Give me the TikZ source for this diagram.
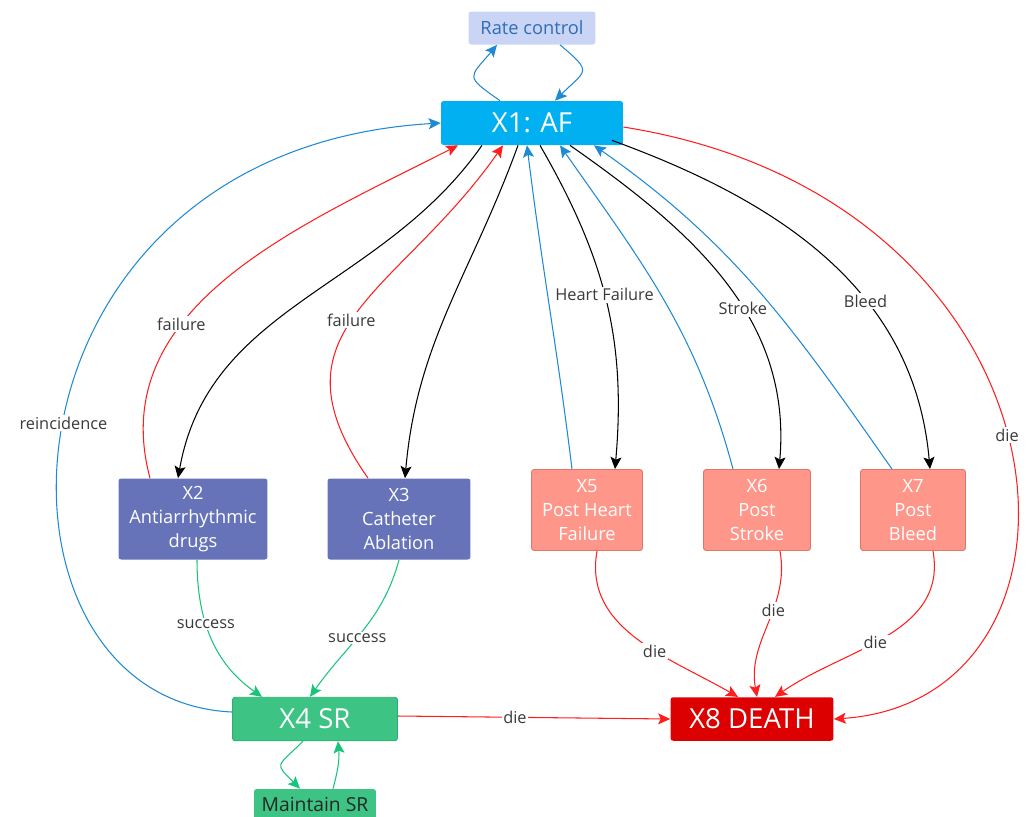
\documentclass[tikz,border=0pt]{standalone}
\usepackage{fontspec}
\setmainfont{Open Sans}
\usetikzlibrary{arrows.meta}
\definecolor{afcyan}{HTML}{00B0F0}
\definecolor{ratefill}{HTML}{CAD5F6}
\definecolor{ratetext}{HTML}{2F6DB5}
\definecolor{treatfill}{HTML}{6673B9}
\definecolor{postfill}{HTML}{FF968A}
\definecolor{postdraw}{HTML}{E0766A}
\definecolor{srgreen}{HTML}{3DC485}
\definecolor{srdraw}{HTML}{2EAE6E}
\definecolor{deathred}{HTML}{DD0000}
\definecolor{linkblue}{HTML}{1E8AD3}
\definecolor{linkred}{HTML}{FF1E1E}
\definecolor{linkgreen}{HTML}{18C47A}
\definecolor{labelgrey}{HTML}{3A3A3A}
\begin{document}
\begin{tikzpicture}[x=0.02cm, y=0.02cm,
    box/.style={rounded corners=1.5pt, align=center, inner sep=0pt, text=white,
      font=\fontsize{10.4}{13.6}\selectfont},
    bigbox/.style={box, minimum height=0.87cm, font=\fontsize{15.7}{18}\selectfont},
    treat/.style={box, fill=treatfill, minimum height=1.62cm},
    post/.style={box, fill=postfill, draw=postdraw, line width=0.5pt, minimum height=1.62cm},
    link/.style={line width=0.6pt, -{Stealth[length=2.4mm,width=2.2mm,inset=0.5mm]}},
    lbl/.style={fill=white, inner sep=1pt, text=labelgrey, font=\fontsize{9.3}{10}\selectfont}]
    \useasboundingbox (0,0) rectangle (1028,-816);

    % States
    \node[box, fill=ratefill, text=ratetext, minimum width=2.54cm, minimum height=0.66cm]
        (rate) at (532,-28) {Rate control};
    \node[bigbox, fill=afcyan, minimum width=3.64cm, minimum height=0.88cm] (af) at (532,-123) {X1: AF};
    \node[treat, minimum width=2.98cm] (aad) at (193,-519) {X2\\Antiarrhythmic\\drugs};
    \node[treat, minimum width=2.86cm] (abl) at (399,-519) {X3\\Catheter\\Ablation};
    \node[post, minimum width=2.22cm] (phf) at (587,-510) {X5\\Post Heart\\Failure};
    \node[post, minimum width=2.14cm] (pst) at (757,-510) {X6\\Post\\Stroke};
    \node[post, minimum width=2.10cm] (pbl) at (913,-510) {X7\\Post\\Bleed};
    \node[bigbox, fill=srgreen, draw=srdraw, line width=0.5pt, minimum width=3.3cm] (sr) at (315,-719) {X4 SR};
    \node[bigbox, fill=deathred, minimum width=3.26cm] (death) at (752,-719) {X8 DEATH};
    \node[box, fill=srgreen, text=black!85, minimum width=2.44cm, minimum height=0.6cm,
        font=\fontsize{11}{13}\selectfont] (keep) at (315,-804) {Maintain SR};

    % Rate control loop
    \draw[link, linkblue] ([xshift=-0.64cm]af.north) to[out=145,in=-130, looseness=2] ([xshift=-0.7cm]rate.south);
    \draw[link, linkblue] ([xshift=0.56cm]rate.south) to[out=-40,in=45, looseness=2] ([xshift=0.46cm]af.north);

    % Treatments
    \draw[link, black] ([xshift=-1.0cm]af.south) to[out=235,in=80] ([xshift=-0.3cm]aad.north);
    \draw[link, linkred] ([xshift=-0.86cm]aad.north) to[out=105,in=207]
        node[lbl, pos=0.36] {failure} ([xshift=-1.48cm]af.south);
    \draw[link, black] ([xshift=-0.28cm]af.south) to[out=250,in=85] ([xshift=0.12cm]abl.north);
    \draw[link, linkred] ([xshift=-0.62cm]abl.north) to[out=125,in=235, looseness=1.3]
        node[lbl, pos=0.47] {failure} ([xshift=-0.58cm]af.south);

    % Events
    \draw[link, linkblue] ([xshift=-0.3cm]phf.north) to[out=97,in=-83] ([xshift=-0.1cm]af.south);
    \draw[link, black] ([xshift=0.16cm]af.south) to[out=-60,in=85]
        node[lbl, pos=0.48] {Heart Failure} ([xshift=0.56cm]phf.north);
    \draw[link, linkblue] ([xshift=-0.48cm]pst.north) to[out=105,in=-55] ([xshift=0.56cm]af.south);
    \draw[link, black] ([xshift=0.76cm]af.south) to[out=-35,in=85]
        node[lbl, pos=0.58] {Stroke} ([xshift=0.44cm]pst.north);
    \draw[link, linkblue] ([xshift=-0.42cm]pbl.north) to[out=125,in=-35] ([xshift=1.24cm]af.south);
    \draw[link, black] ([xshift=1.6cm,yshift=0.1cm]af.south) to[out=-20,in=95]
        node[lbl, pos=0.62] {Bleed} ([xshift=0.34cm]pbl.north);

    % Reincidence and death from AF
    \draw[link, linkblue] ([yshift=0.14cm]sr.west) .. controls (-35,-700) and (-20,-150) ..
        node[lbl, pos=0.5] {reincidence} (af.west);
    \draw[link, linkred] ([yshift=-0.08cm]af.east) .. controls (1085,-200) and (1120,-700) ..
        node[lbl, pos=0.49] {die} (death.east);

    % Success
    \draw[link, linkgreen] ([xshift=0.08cm]aad.south) to[out=-90,in=145]
        node[lbl, pos=0.4] {success} ([xshift=-1.06cm]sr.north);
    \draw[link, linkgreen] (abl.south) to[out=-105,in=55]
        node[lbl, pos=0.55] {success} ([xshift=-0.1cm]sr.north);

    % Death
    \draw[link, linkred] ([xshift=0.2cm]phf.south) to[out=-100,in=150]
        node[lbl, pos=0.6] {die} ([xshift=-0.28cm]death.north);
    \draw[link, linkred] ([xshift=0.46cm]pst.south) to[out=-80,in=100]
        node[lbl, pos=0.4] {die} ([xshift=0.1cm]death.north);
    \draw[link, linkred] ([xshift=0.4cm]pbl.south) to[out=-80,in=35]
        node[lbl, pos=0.55] {die} ([xshift=0.46cm]death.north);
    \draw[link, linkred] ([yshift=0.06cm]sr.east) -- node[lbl, pos=0.43] {die} (death.west);

    % Maintain SR loop
    \draw[link, linkgreen] ([xshift=-0.24cm]sr.south) to[out=-135,in=135, looseness=2] ([xshift=-0.3cm]keep.north);
    \draw[link, linkgreen] ([xshift=0.36cm]keep.north) to[out=75,in=-85] ([xshift=0.46cm]sr.south);
\end{tikzpicture}
\end{document}
